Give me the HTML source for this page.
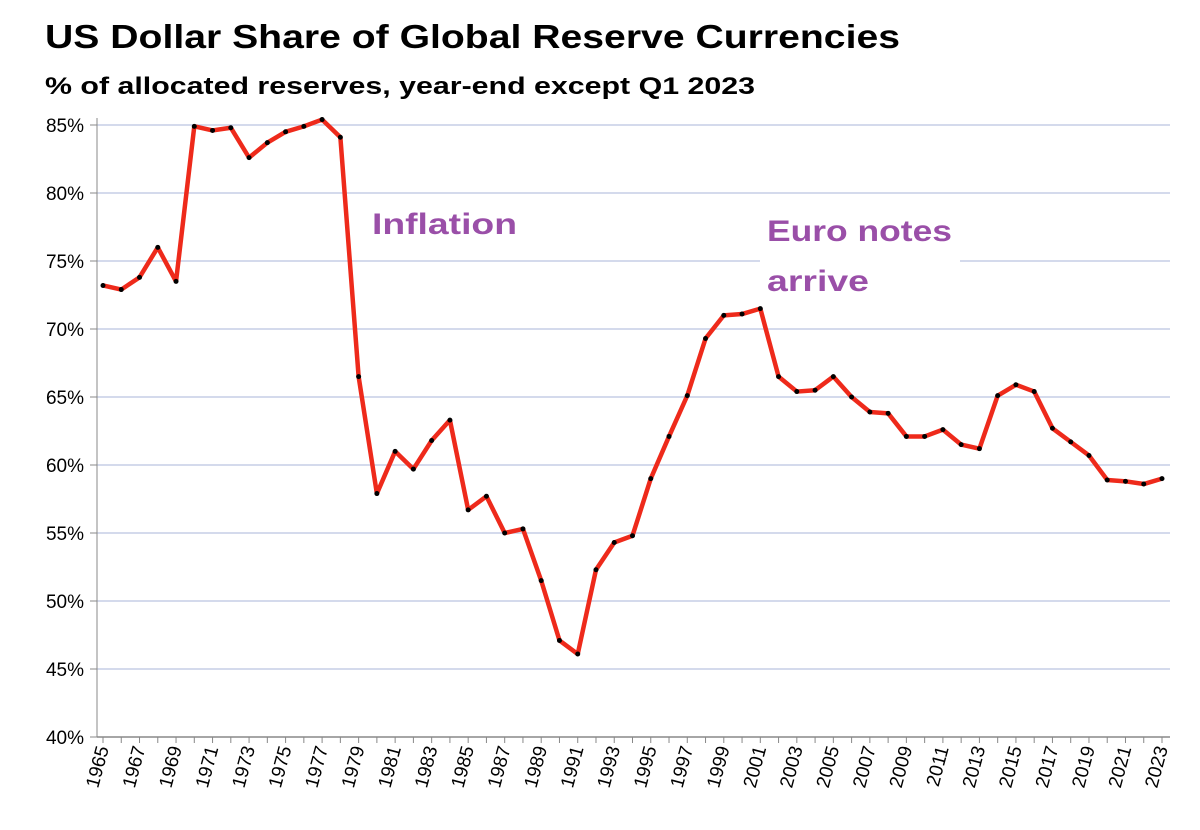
<!DOCTYPE html>
<html><head><meta charset="utf-8"><style>
body{margin:0;background:#fff;}
svg{display:block;font-family:"Liberation Sans",sans-serif;}
</style></head><body>
<svg id="chart" width="1200" height="830">
<text x="45" y="48" font-size="33" font-weight="bold" fill="#000" textLength="855" lengthAdjust="spacingAndGlyphs">US Dollar Share of Global Reserve Currencies</text>
<text x="45" y="94" font-size="24" font-weight="bold" fill="#000" textLength="710" lengthAdjust="spacingAndGlyphs">% of allocated reserves, year-end except Q1 2023</text>
<g id="grid"></g><g id="yt"></g><g id="xt"></g>
<rect x="760" y="207" width="200" height="95" fill="#fff"/>
<text x="372" y="234" font-size="30" font-weight="bold" fill="#9a4fa8" textLength="145" lengthAdjust="spacingAndGlyphs">Inflation</text>
<text x="767" y="241" font-size="30" font-weight="bold" fill="#9a4fa8" textLength="185" lengthAdjust="spacingAndGlyphs">Euro notes</text>
<text x="767" y="291" font-size="30" font-weight="bold" fill="#9a4fa8" textLength="102" lengthAdjust="spacingAndGlyphs">arrive</text>
<g id="series"></g>
</svg>
<script>
const years=[];for(let y=1965;y<=2023;y++)years.push(y);
const shares=[73.2,72.9,73.8,76.0,73.5,84.9,84.6,84.8,82.6,83.7,84.5,84.9,85.4,84.1,66.5,57.9,61.0,59.7,61.8,63.3,56.7,57.7,55.0,55.3,51.5,47.1,46.1,52.3,54.3,54.8,59.0,62.1,65.1,69.3,71.0,71.1,71.5,66.5,65.4,65.5,66.5,65.0,63.9,63.8,62.1,62.1,62.6,61.5,61.2,65.1,65.9,65.4,62.7,61.7,60.7,58.9,58.8,58.6,59.0];
const yTicks=[40,45,50,55,60,65,70,75,80,85];
const NS="http://www.w3.org/2000/svg";
const x=yr=>103+(yr-1965)*(1162-103)/58;
const y=v=>737-(v-40)*13.6;
function mk(t,a,p){const e=document.createElementNS(NS,t);for(const k in a)e.setAttribute(k,a[k]);p.appendChild(e);return e;}
const grid=document.getElementById('grid'),yt=document.getElementById('yt'),xt=document.getElementById('xt'),se=document.getElementById('series');
yTicks.forEach(v=>{
 const l=mk('line',{x1:97,x2:1170,y1:y(v),y2:y(v),stroke:v===40?'#888':'#c5cde6','stroke-width':1.5},grid);
 
 
 mk('line',{x1:90,x2:97,y1:y(v),y2:y(v),stroke:'#888'},grid);
 const t=mk('text',{x:84,y:y(v)+7,'text-anchor':'end','font-size':19,fill:'#000'},yt);t.textContent=v+'%';
 
 
});
const ax=mk('line',{x1:97,x2:97,y1:118,y2:737,stroke:'#888'},grid);


years.forEach((yr,i)=>{
 mk('line',{x1:x(yr),x2:x(yr),y1:737,y2:743,stroke:'#888'},grid);
 if(i%2===0){const px=x(yr)+6,py=748;
  const t=mk('text',{x:px,y:py,'text-anchor':'end','font-size':19,fill:'#000',transform:`rotate(-75 ${px} ${py})`},xt);t.textContent=yr;
  
  }
});
const pl=mk('polyline',{points:years.map((yr,i)=>x(yr)+','+y(shares[i])).join(' '),fill:'none',stroke:'#ee2a1b','stroke-width':4.5,'stroke-linejoin':'round'},se);


years.forEach((yr,i)=>{const c=mk('circle',{cx:x(yr),cy:y(shares[i]),r:2.5,fill:'#000'},se);
 
 });
</script>
</body></html>
